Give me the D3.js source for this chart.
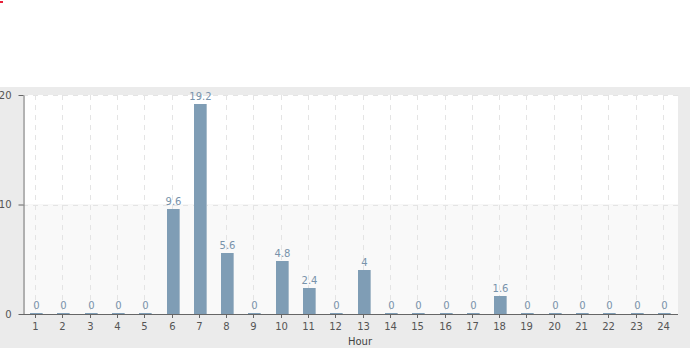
<!DOCTYPE html>
<html><head><meta charset="utf-8">
<script src="https://cdn.jsdelivr.net/npm/d3@7/dist/d3.min.js"></script>
<style>body{margin:0;background:#fff}svg{display:block}</style>
</head><body><svg id="c" width="690" height="348"></svg>
<script>
const hours = ["1","2","3","4","5","6","7","8","9","10","11","12","13","14","15","16","17","18","19","20","21","22","23","24"];
const values = [0,0,0,0,0,9.6,19.2,5.6,0,4.8,2.4,0,4,0,0,0,0,1.6,0,0,0,0,0,0];
const yTicks = [0,10,20];
const xTitle = "Hour";

const svg = d3.select("#c");
const W = 690, H = 348;
const FONT = "DejaVu Sans, Verdana, sans-serif";
const px0 = 23, px1 = 678, y0 = 314, y1 = 95;

svg.append("rect").attr("x",0).attr("y",87).attr("width",W).attr("height",H-87).attr("fill","#ebebeb");
svg.append("rect").attr("x",0).attr("y",1).attr("width",3).attr("height",2).attr("fill","#e8203a");

const x = d3.scaleBand().domain(hours).range([22,677]).padding(0);
const y = d3.scaleLinear().domain([0,20]).range([y0,y1]);
const cxOf = h => Math.floor(x(h)+x.bandwidth()/2)+0.5;

svg.append("rect").attr("x",px0).attr("y",y(20)).attr("width",px1-px0).attr("height",y(10)-y(20)).attr("fill","#ffffff");
svg.append("rect").attr("x",px0).attr("y",y(10)).attr("width",px1-px0).attr("height",y(0)-y(10)).attr("fill","#f9f9f9");

const g = svg.append("g").attr("stroke","#e4e4e4").attr("stroke-dasharray","5,5");
hours.forEach(h=>{
  const cx = cxOf(h);
  g.append("line").attr("x1",cx).attr("x2",cx).attr("y1",y1).attr("y2",y0);
});
yTicks.filter(t=>t>0).forEach(t=>{
  g.append("line").attr("x1",px0).attr("x2",px1).attr("y1",Math.round(y(t))+0.5).attr("y2",Math.round(y(t))+0.5);
});

const bw = 13;
const bars = svg.append("g");
hours.forEach((h,i)=>{
  const v = values[i];
  const cx = cxOf(h);
  const top = v>0 ? Math.round(y(v)) : y0-1;
  const bx = Math.round(cx - 5.5);
  const bh = v>0 ? y0-top : 2;
  bars.append("rect").attr("x",bx).attr("y",top).attr("width",bw).attr("height",bh).attr("fill","#7f9db5");
  bars.append("rect").attr("x",bx+bw-1).attr("y",top).attr("width",1).attr("height",bh).attr("fill","#a9bccb");
  bars.append("text").attr("x",bx+bw/2).attr("y",(v>0?top:y0-1)-4).attr("text-anchor","middle")
    .attr("font-family",FONT).attr("font-size",10).attr("fill","#7893ab").text(v);
});

const ax = svg.append("g").attr("transform",`translate(0,${y0})`).call(d3.axisBottom(x).tickSize(4).tickSizeOuter(0));
ax.select(".domain").attr("stroke","#666").attr("d",`M${px0},0.5H${px1}`);
ax.selectAll(".tick").attr("transform",d=>`translate(${cxOf(d)},0)`);
ax.selectAll(".tick line").attr("stroke","#666");
ax.selectAll("text").attr("fill","#555").attr("font-family",FONT).attr("font-size",10).attr("y",7).attr("dy","0.85em");

const ay = svg.append("g").attr("transform",`translate(${px0+0.5},0)`).call(d3.axisLeft(y).tickValues(yTicks).tickSize(5).tickSizeOuter(0));
ay.select(".domain").attr("stroke","#666");
ay.selectAll(".tick line").attr("stroke","#666");
ay.selectAll("text").attr("fill","#555").attr("font-family",FONT).attr("font-size",10).attr("x",-12);

svg.append("text").attr("x",360).attr("y",345).attr("text-anchor","middle")
  .attr("font-family",FONT).attr("font-size",10).attr("fill","#444").text(xTitle);
</script></body></html>
